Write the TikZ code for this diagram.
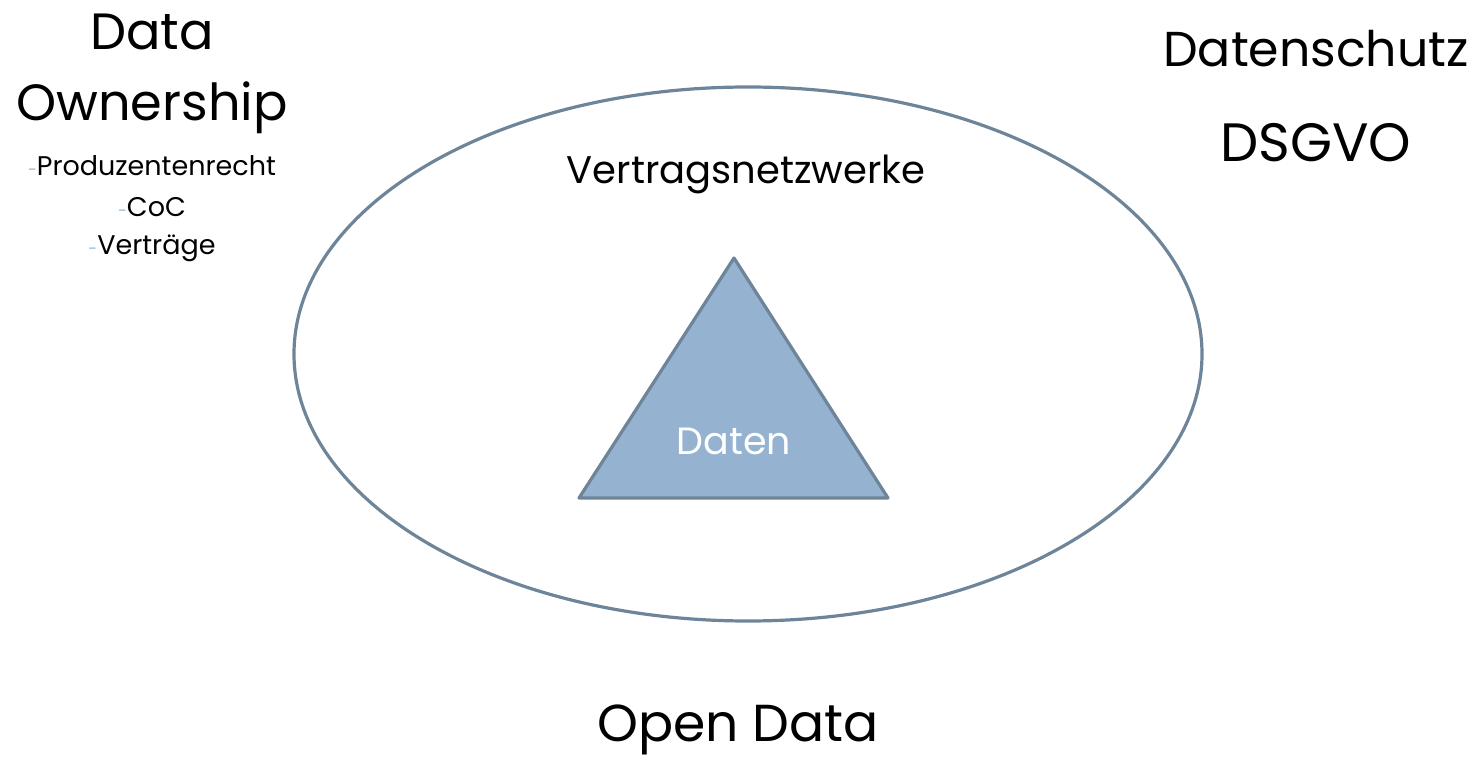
\documentclass[tikz,border=0pt]{standalone}
\usepackage{fontspec}
\setmainfont{Poppins}
\definecolor{edge}{HTML}{6D8499}
\definecolor{trifill}{HTML}{95B3D1}
\definecolor{dash}{HTML}{95B3D1}
\tikzset{
  bigtxt/.style={font=\fontsize{51}{56}\selectfont, inner sep=0pt, align=center},
  midtxt/.style={font=\fontsize{38.5}{44}\selectfont, inner sep=0pt},
  subtxt/.style={font=\fontsize{27}{32}\selectfont, inner sep=0pt},
}
\newcommand{\dsh}{{\color{dash}\fontsize{16}{16}\selectfont -}}
\begin{document}
\begin{tikzpicture}[x=1pt,y=-1pt]
\useasboundingbox (0,0) rectangle (1476,759);
\draw[edge, line width=3.2pt] (748,354) ellipse [x radius=454, y radius=267];
\draw[edge, fill=trifill, line width=3.2pt, line join=round] (734,258) -- (888,498) -- (579,498) -- cycle;
\node[font=\fontsize{38}{44}\selectfont, text=white, inner sep=0pt] (daten) at (734,441) {Daten};
\node[midtxt] (vn) at (746,174) {Vertragsnetzwerke};
\node[bigtxt] (do1) at (152,32) {Data};
\node[bigtxt] (do2) at (152,108) {Ownership};
\node[subtxt] (p1) at (152,166) {\dsh Produzentenrecht};
\node[subtxt] (p2) at (152,207) {\dsh CoC};
\node[subtxt] (p3) at (152,248) {\dsh Verträge};
\node[bigtxt, font=\fontsize{49}{56}\selectfont] (ds1) at (1316,49) {Datenschutz};
\node[bigtxt, font=\fontsize{54}{60}\selectfont] (ds2) at (1316,143) {DSGVO};
\node[bigtxt, font=\fontsize{52}{58}\selectfont] (od) at (738,730) {Open Data};
\end{tikzpicture}
\end{document}
